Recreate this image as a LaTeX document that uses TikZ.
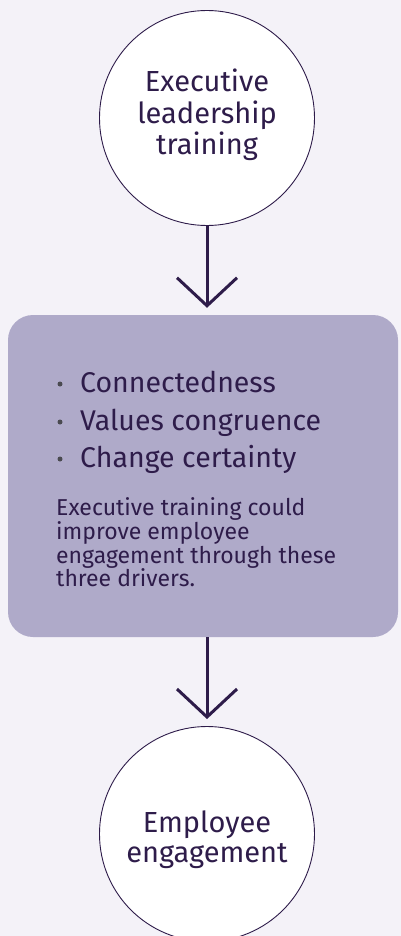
\documentclass[tikz,border=0pt]{standalone}
\usepackage{fontspec}
\setmainfont{Fira Sans}
\usetikzlibrary{arrows.meta}
\definecolor{bgc}{HTML}{F4F2F8}
\definecolor{boxc}{HTML}{AFAAC9}
\definecolor{ink}{HTML}{2E1C4A}
\definecolor{dotc}{HTML}{4A4A50}
\tikzset{
  bubble/.style={circle, draw=ink, line width=0.9pt, fill=white, minimum size=215pt, inner sep=0pt},
  btext/.style={anchor=base, text=ink, inner sep=0pt, font=\fontsize{29}{31.5}\selectfont},
  panel/.style={rectangle, rounded corners=25pt, fill=boxc, minimum width=390pt, minimum height=322pt, inner sep=0pt},
  bul/.style={anchor=base west, text=ink, inner sep=0pt, font=\fontsize{28.5}{34}\selectfont},
  bdot/.style={circle, fill=dotc, minimum size=5pt, inner sep=0pt},
  para/.style={anchor=north west, text=ink, inner sep=0pt, align=left, font=\fontsize{23}{23.7}\selectfont},
  flow/.style={draw=ink, line width=3pt, -{Straight Barb[length=28pt, width=60pt, line width=3pt]}, shorten >=7pt}
}
\begin{document}
\begin{tikzpicture}[x=1pt, y=-1pt]
\fill[bgc] (0,0) rectangle (401,936);
\useasboundingbox (0,0) rectangle (401,936);
\node[bubble] (top) at (207,118) {};
\node[btext] (t1) at (207,92) {Executive};
\node[btext] (t2) at (207,123.5) {leadership};
\node[btext] (t3) at (207,155) {training};
\node[panel] (box) at (203,476) {};
\node[bubble] (bot) at (207,834) {};
\node[btext] (e1) at (207,832) {Employee};
\node[btext] (e2) at (207,862) {engagement};
\draw[flow] (top.south) -- (top.south |- box.north);
\coordinate (bx) at (207,637);
\draw[flow] (bx) -- (bot.north);
\node[bdot] (d1) at (60,384) {};
\node[bdot] (d2) at (60,422) {};
\node[bdot] (d3) at (60,459) {};
\node[bul] (b1) at (80,392.5) {Connectedness};
\node[bul] (b2) at (80,430) {Values congruence};
\node[bul] (b3) at (80,467) {Change certainty};
\node[para] (p) at (56,497.5) {Executive training could\\improve employee\\engagement through these\\three drivers.};
\end{tikzpicture}
\end{document}
